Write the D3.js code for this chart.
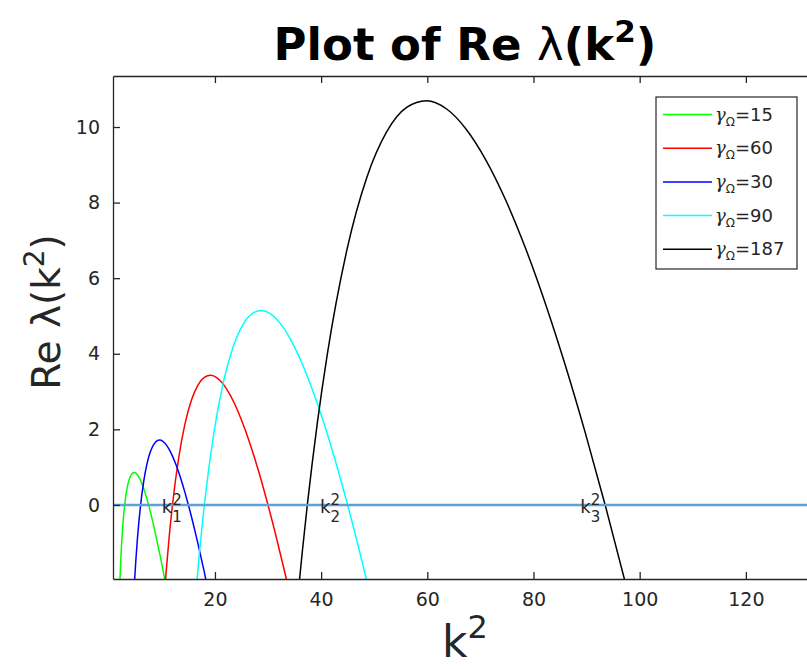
<!DOCTYPE html>
<html>
<head>
<meta charset="utf-8">
<script src="https://cdn.jsdelivr.net/npm/d3@7"></script>
<style>
  body { margin: 0; background: #fff; }
  svg { display: block; font-family: "DejaVu Sans", sans-serif; }
</style>
</head>
<body>
<svg></svg>
<script>
const width = 807,
  height = 669;

// series, in legend order
const gammas = [15, 60, 30, 90, 187];
const colors = ["#00ff00", "#ff0000", "#0000ff", "#00ffff", "#000000"];

const k2_g15 = [1.95, 2.1, 2.25, 2.4, 2.55, 2.7, 2.85, 3.0, 3.3, 3.6, 3.9, 4.2, 4.5, 4.8, 5.1, 5.4, 6.0, 6.75, 7.5, 8.25, 9.0, 9.75, 10.5, 11.25];
const re_g15 = [-2.68, -2.02, -1.5, -1.08, -0.735, -0.447, -0.204, 0, 0.318, 0.542, 0.695, 0.792, 0.844, 0.858, 0.841, 0.798, 0.646, 0.362, 0, -0.422, -0.89, -1.395, -1.93, -2.49];

const k2_g30 = [4.5, 4.8, 5.1, 5.4, 5.7, 6.0, 6.6, 7.2, 7.8, 8.4, 9.0, 9.6, 10.2, 10.8, 11.4, 12.0, 12.6, 13.5, 14.4, 15.0, 16.5, 18.0, 19.5];
const re_g30 = [-3.0, -2.161, -1.47, -0.893, -0.409, 0, 0.636, 1.085, 1.391, 1.584, 1.687, 1.716, 1.682, 1.595, 1.463, 1.292, 1.087, 0.725, 0.306, 0, -0.844, -1.78, -2.791];

const k2_g60 = [10.2, 10.8, 11.4, 12, 13.2, 14.4, 15.6, 16.8, 18, 19.2, 20.4, 21.6, 22.8, 24, 25.2, 26.4, 27.6, 28.8, 30, 31.2, 33, 36];
const re_g60 = [-2.939, -1.786, -0.817, 0, 1.272, 2.17, 2.782, 3.169, 3.374, 3.431, 3.364, 3.19, 2.926, 2.585, 2.174, 1.705, 1.182, 0.612, 0, -0.65, -1.688, -3.56];

const k2_g90 = [16.2, 17.1, 18, 19.8, 21.6, 23.4, 25.2, 27, 28.8, 30.6, 32.4, 34.2, 36, 37.8, 39.6, 41.4, 43.2, 45, 46.8, 49.5];
const re_g90 = [-2.679, -1.226, 0, 1.908, 3.254, 4.172, 4.753, 5.062, 5.147, 5.045, 4.785, 4.389, 3.877, 3.262, 2.557, 1.773, 0.918, 0, -0.975, -2.532];

const k2_g187 = [35.53, 36.47, 37.4, 39.27, 41.14, 44.88, 48.62, 52.36, 56.1, 59.84, 63.58, 67.32, 71.06, 74.8, 78.54, 82.28, 86.02, 89.76, 93.5, 97.24, 99.11];
const re_g187 = [-2.547, -1.22, 0, 2.151, 3.964, 6.762, 8.669, 9.875, 10.517, 10.695, 10.483, 9.943, 9.12, 8.056, 6.777, 5.313, 3.684, 1.907, 0, -2.025, -3.078];

const zeroLineX = [0, 140];
const xTicks = [20, 40, 60, 80, 100, 120];
const yTicks = [0, 2, 4, 6, 8, 10];
const kLabelX = [10, 39.8, 88.8];
const kLabelSub = ["1", "2", "3"];

const seriesK2 = [k2_g15, k2_g60, k2_g30, k2_g90, k2_g187];
const seriesRe = [re_g15, re_g60, re_g30, re_g90, re_g187];

const series = gammas.map((g, i) => ({
  gamma: g,
  color: colors[i],
  points: seriesK2[i].map((k, j) => ({ k2: k, re: seriesRe[i][j] })),
}));

const plot = { left: 113, top: 76, right: 817, bottom: 579 };
const axisColor = "#262626";

let svg = d3.select("svg").attr("width", width).attr("height", height);

let x = d3.scaleLinear().domain([0.8, 133.4]).range([plot.left, plot.right]);
let y = d3.scaleLinear().domain([-1.96, 11.35]).range([plot.bottom, plot.top]);

svg
  .append("defs")
  .append("clipPath")
  .attr("id", "clip")
  .append("rect")
  .attr("x", plot.left)
  .attr("y", plot.top)
  .attr("width", plot.right - plot.left)
  .attr("height", plot.bottom - plot.top);

let line = d3
  .line()
  .x((d) => x(d.k2))
  .y((d) => y(d.re))
  .curve(d3.curveMonotoneX);

let curves = svg.append("g").attr("clip-path", "url(#clip)");

curves
  .selectAll("path.curve")
  .data(series)
  .enter()
  .append("path")
  .attr("class", "curve")
  .attr("d", (d) => line(d.points))
  .attr("fill", "none")
  .attr("stroke", (d) => d.color)
  .attr("stroke-width", 1.5);

// y = 0 line
curves
  .append("line")
  .attr("x1", x(zeroLineX[0]))
  .attr("x2", x(zeroLineX[1]))
  .attr("y1", y(0))
  .attr("y2", y(0))
  .attr("stroke", "#5fa0d6")
  .attr("stroke-width", 2.6);

// k labels
let kl = svg
  .append("g")
  .selectAll("text")
  .data(kLabelX)
  .enter()
  .append("text")
  .attr("x", (d) => x(d))
  .attr("y", y(0) + 8)
  .attr("font-size", 18)
  .attr("fill", "#262626");
kl.append("tspan").text("k");
kl.append("tspan")
  .attr("font-size", 15)
  .attr("dy", -8)
  .text("2");
kl.append("tspan")
  .attr("font-size", 15)
  .attr("dx", -9.5)
  .attr("dy", 17)
  .text((d, i) => kLabelSub[i]);

// axes
let xAxis = svg
  .append("g")
  .attr("transform", `translate(0,${plot.bottom})`)
  .call(d3.axisBottom(x).tickValues(xTicks).tickSizeInner(-7).tickSizeOuter(0).tickPadding(14));
let xTop = svg
  .append("g")
  .attr("transform", `translate(0,${plot.top})`)
  .call(d3.axisTop(x).tickValues(xTicks).tickSizeInner(-7).tickSizeOuter(0).tickFormat(""));
let yAxis = svg
  .append("g")
  .attr("transform", `translate(${plot.left},0)`)
  .call(d3.axisLeft(y).tickValues(yTicks).tickSizeInner(-7).tickSizeOuter(0).tickPadding(13));

[xAxis, xTop, yAxis].forEach((g) => {
  g.select(".domain").attr("stroke", axisColor).attr("stroke-width", 1.3);
  g.selectAll(".tick line").attr("stroke", axisColor).attr("stroke-width", 1.3);
  g.selectAll(".tick text")
    .attr("fill", axisColor)
    .attr("font-size", 19)
    .attr("font-family", "DejaVu Sans");
});

// title
let title = svg
  .append("text")
  .attr("x", (plot.left + plot.right) / 2)
  .attr("y", 60)
  .attr("text-anchor", "middle")
  .attr("font-size", 45)
  .attr("font-weight", "bold")
  .attr("fill", "#000");
title.append("tspan").text("Plot of Re ");
title.append("tspan").attr("font-weight", "normal").text("λ");
title.append("tspan").text("(k");
title.append("tspan").attr("font-size", 31).attr("dy", -18).text("2");
title.append("tspan").attr("dy", 18).text(")");

// y label
let ylab = svg
  .append("text")
  .attr("transform", `translate(60,312) rotate(-90)`)
  .attr("text-anchor", "middle")
  .attr("font-size", 39)
  .attr("fill", axisColor);
ylab.append("tspan").text("Re λ(k");
ylab.append("tspan").attr("font-size", 28).attr("dy", -16).text("2");
ylab.append("tspan").attr("dy", 16).text(")");

// x label
let xlab = svg
  .append("text")
  .attr("x", (plot.left + plot.right) / 2)
  .attr("y", 657)
  .attr("text-anchor", "middle")
  .attr("font-size", 44)
  .attr("fill", axisColor);
xlab.append("tspan").text("k");
xlab.append("tspan").attr("font-size", 32).attr("dy", -19).text("2");

// legend
const lg = { x: 656, y: 97, w: 141, h: 172, row: 33.7 };
let legend = svg.append("g");
legend
  .append("rect")
  .attr("x", lg.x)
  .attr("y", lg.y)
  .attr("width", lg.w)
  .attr("height", lg.h)
  .attr("fill", "#fff")
  .attr("stroke", "#262626")
  .attr("stroke-width", 1.2);

let items = legend
  .selectAll("g.item")
  .data(series)
  .enter()
  .append("g")
  .attr("class", "item")
  .attr("transform", (d, i) => `translate(${lg.x},${lg.y + 17.5 + i * lg.row})`);
items
  .append("line")
  .attr("x1", 7)
  .attr("x2", 56)
  .attr("stroke", (d) => d.color)
  .attr("stroke-width", 1.5);
let lt = items
  .append("text")
  .attr("x", 59)
  .attr("y", 6)
  .attr("font-size", 18)
  .attr("fill", "#262626");
lt.append("tspan").attr("font-family", "DejaVu Serif").attr("font-style", "italic").text("γ");
lt.append("tspan").attr("font-size", 12).attr("dy", 5).text("Ω");
lt.append("tspan").attr("dy", -5).text((d) => "=" + d.gamma);
</script>
</body>
</html>
